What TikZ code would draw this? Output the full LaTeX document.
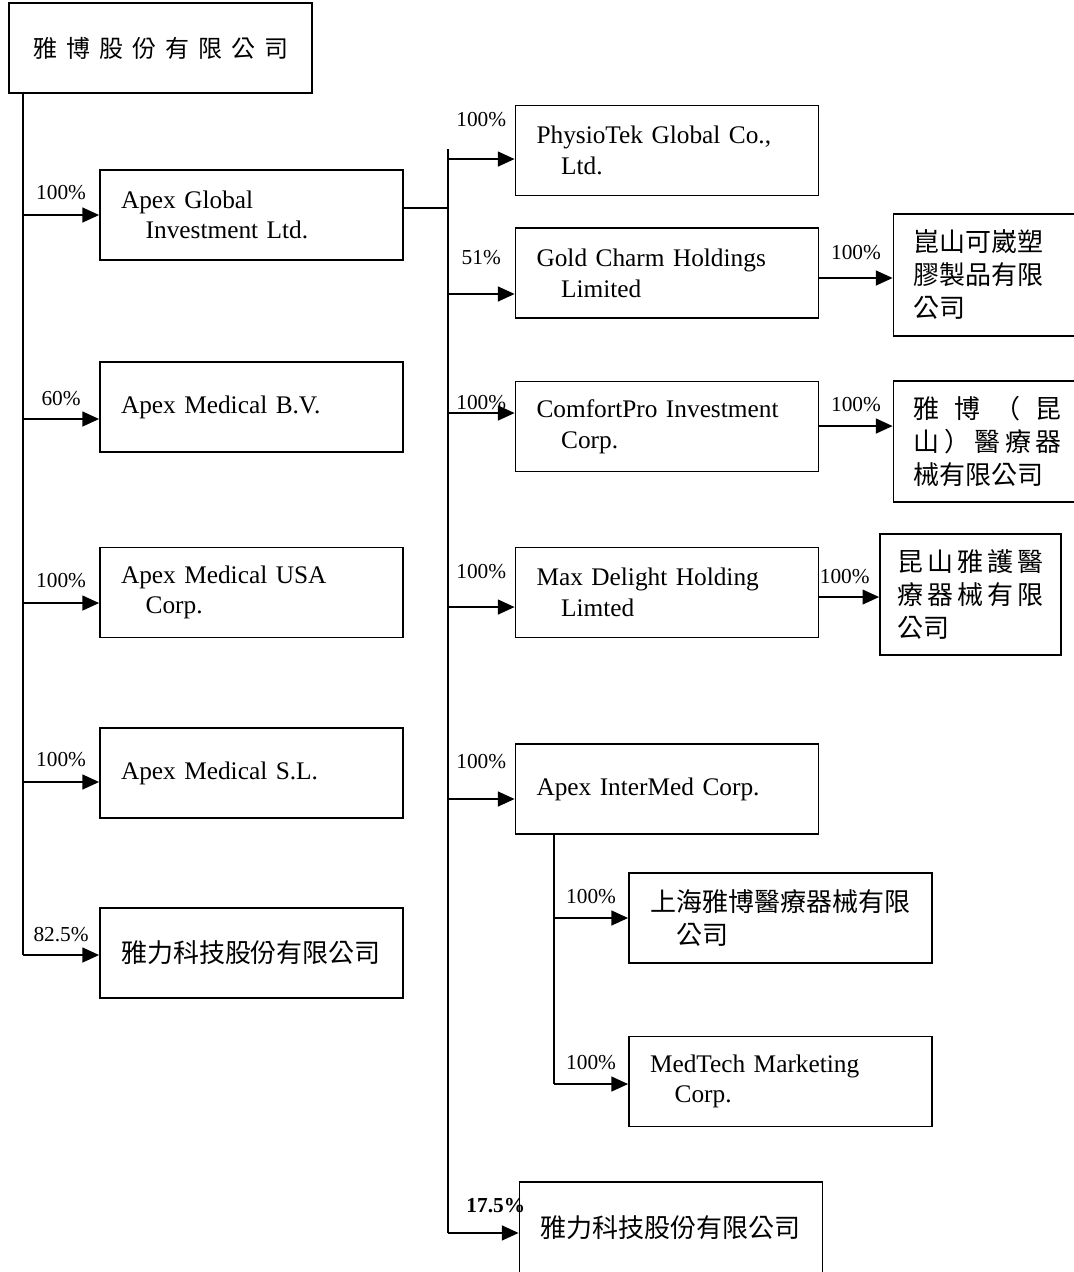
\documentclass[tikz,border=0pt]{standalone}
\usepackage{fontspec}
\setmainfont{Liberation Serif}
\newfontfamily\cjk{Noto Sans CJK TC}
\usetikzlibrary{arrows.meta}
\newcommand{\wrapline}{\\\hspace*{18.5pt}}
\newcommand{\cjkgap}{\hspace{6.75pt}}

\begin{document}
\begin{tikzpicture}[x=0.75pt, y=-0.75pt]
    \definecolor{box-color}{HTML}{ffffff}
    \tikzstyle{every node}=[font=\fontsize{19}{23}\selectfont]
    \tikzstyle{firm} = [rectangle, draw, line width=1.3pt, fill=box-color, text width=195.75pt, inner xsep=15.75pt, align=left, minimum height=67.5pt]
    \tikzstyle{cnfirm} = [firm, font=\fontsize{19.5}{24.5}\selectfont\cjk]
    \tikzstyle{head} = [rectangle, draw, line width=1.3pt, fill=box-color, minimum width=227.25pt, minimum height=67.5pt, font=\fontsize{18}{22}\selectfont\cjk]
    \tikzstyle{local} = [rectangle, draw, line width=1.3pt, fill=box-color, text width=111pt, inner xsep=15pt, align=left, minimum height=91pt, font=\fontsize{19.5}{24.75}\selectfont\cjk]
    \tikzstyle{pct} = [inner sep=0pt, font=\fontsize{16}{18}\selectfont]
    \tikzstyle{line} = [line width=1.25pt]
    \tikzstyle{arrow} = [line width=1.6pt, -{Triangle[length=12.5pt, width=11pt]}]
    \useasboundingbox (0,0) rectangle (1074,1272);

        \node (parent) [head] at (160.5,48) {雅\cjkgap 博\cjkgap 股\cjkgap 份\cjkgap 有\cjkgap 限\cjkgap 公\cjkgap 司};

        \node (k1) [firm] at (251.5,215) {Apex Global\wrapline Investment Ltd.};
        \node (k2) [firm] at (251.5,407) {Apex Medical B.V.};
        \node (k3) [firm] at (251.5,592.5) {Apex Medical USA\wrapline Corp.};
        \node (k4) [firm] at (251.5,773) {Apex Medical S.L.};
        \node (k5) [cnfirm] at (251.5,953) {雅力科技股份有限公司};

        \node (r1) [firm] at (667,150.5) {PhysioTek Global Co.,\wrapline Ltd.};
        \node (r2) [firm] at (667,273) {Gold Charm Holdings\wrapline Limited};
        \node (r3) [firm] at (667,426.5) {ComfortPro Investment\wrapline Corp.};
        \node (r4) [firm] at (667,592.5) {Max Delight Holding\wrapline Limted};
        \node (r5) [firm] at (667,789) {Apex InterMed Corp.};
        \node (r6) [cnfirm, minimum height=68.25pt] at (671,1227.5) {雅力科技股份有限公司};

        \node (s1) [local, minimum height=91.5pt] at (987.5,275) {崑山可崴塑\\膠製品有限\\公司};
        \node (s2) [local, minimum height=90.75pt] at (987.5,441.5) {\makebox[111pt][s]{雅\hfill 博\hfill （\hfill 昆}\\\makebox[111pt][s]{山\hfill ）\hfill 醫\hfill 療\hfill 器}\\械有限公司};
        \node (s3) [local, text width=109.5pt, inner xsep=13.1pt, minimum height=90.75pt] at (970.5,594.5) {\makebox[109.5pt][s]{昆\hfill 山\hfill 雅\hfill 護\hfill 醫}\\\makebox[109.5pt][s]{療\hfill 器\hfill 械\hfill 有\hfill 限}\\公司};

        \node (t1) [cnfirm] at (780.5,918) {上海雅博醫療器械有限\\\hspace*{20pt}公司};
        \node (t2) [firm] at (780.5,1081.5) {MedTech Marketing\wrapline Corp.};

    \coordinate (trunk) at ([xshift=11.25pt]parent.south west);
    \draw[line] (trunk) -- ([yshift=-1.5pt]k5.west -| trunk);
    \draw[arrow] (k1.west -| trunk) -- node[pct, above=10.9pt] (l1) {100\%} (k1.west);
    \draw[arrow] ([yshift=-9pt]k2.west -| trunk) -- node[pct, above=9.4pt] (l2) {60\%} ([yshift=-9pt]k2.west);
    \draw[arrow] ([yshift=-7.9pt]k3.west -| trunk) -- node[pct, above=10.9pt] (l3) {100\%} ([yshift=-7.9pt]k3.west);
    \draw[arrow] ([yshift=-6.75pt]k4.west -| trunk) -- node[pct, above=10.9pt] (l4) {100\%} ([yshift=-6.75pt]k4.west);
    \draw[arrow] ([yshift=-1.5pt]k5.west -| trunk) -- node[pct, above=9.4pt] (l5) {82.5\%} ([yshift=-1.5pt]k5.west);

    \draw[line] ([yshift=5.25pt]k1.east) -- ++(44,0) coordinate (bus);
    \draw[line] ([yshift=1.1pt]r1.west -| bus) -- ([yshift=-4.1pt]r6.west -| bus);
    \draw[arrow] ([yshift=-6.4pt]r1.west -| bus) -- node[pct, above=23.6pt] (m1) {100\%} ([yshift=-6.4pt]r1.west);
    \draw[arrow] ([yshift=-15.75pt]r2.west -| bus) -- node[pct, above=21.4pt] (m2) {51\%} ([yshift=-15.75pt]r2.west);
    \draw[arrow] ([yshift=10.1pt]r3.west -| bus) -- node[pct, above=1.9pt] (m3) {100\%} ([yshift=10.1pt]r3.west);
    \draw[arrow] ([yshift=-10.9pt]r4.west -| bus) -- node[pct, above=20.6pt] (m4) {100\%} ([yshift=-10.9pt]r4.west);
    \draw[arrow] ([yshift=-7.5pt]r5.west -| bus) -- node[pct, above=22.1pt] (m5) {100\%} ([yshift=-7.5pt]r5.west);
    \draw[arrow] ([yshift=-4.1pt]r6.west -| bus) -- node[pct, above=14.6pt, xshift=9.4pt] (m6) {\textbf{17.5\%}} ([yshift=-4.1pt]r6.west);

    \draw[arrow] ([yshift=-2.25pt]s1.west -| r2.east) -- node[pct, above=13.1pt] (n1) {100\%} ([yshift=-2.25pt]s1.west);
    \draw[arrow] ([yshift=11.6pt]s2.west -| r3.east) -- node[pct, above=10.1pt] (n2) {100\%} ([yshift=11.6pt]s2.west);
    \draw[arrow] ([yshift=-1.9pt]s3.west -| r4.east) -- node[pct, above=9.4pt, xshift=-3.4pt] (n3) {100\%} ([yshift=-1.9pt]s3.west);

    \coordinate (drop) at ([xshift=-84.75pt]r5.south);
    \draw[line] (drop) -- ([yshift=-1.9pt]t2.west -| drop);
    \draw[arrow] (t1.west -| drop) -- node[pct, above=10.1pt] (o1) {100\%} (t1.west);
    \draw[arrow] ([yshift=-1.9pt]t2.west -| drop) -- node[pct, above=10.1pt] (o2) {100\%} ([yshift=-1.9pt]t2.west);
\end{tikzpicture}
\end{document}
